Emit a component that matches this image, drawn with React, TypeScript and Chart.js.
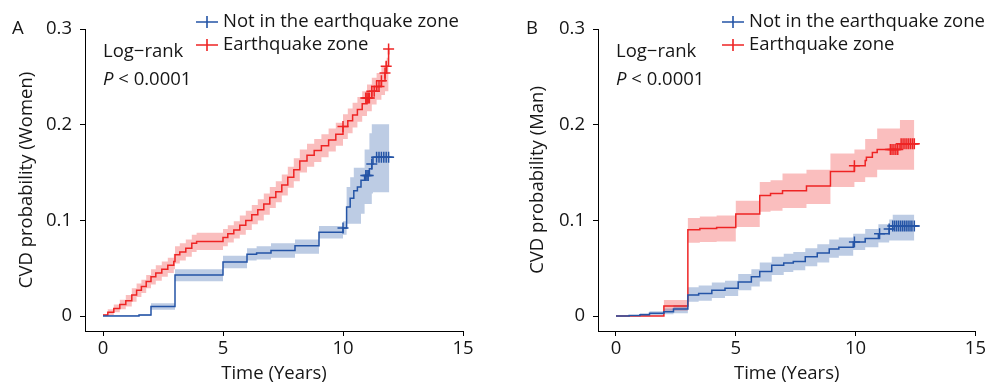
import React, { useEffect, useRef } from 'react';
import { Chart, registerables } from 'chart.js';

Chart.register(...registerables);

const FONT = '"Open Sans", "Noto Sans", sans-serif';
const FS = 18.5;
const TEXT = '#161616';
const RED = 'rgb(238,36,36)';
const RED_BAND = 'rgba(240,40,40,0.30)';
const BLUE = 'rgb(36,84,166)';
const BLUE_BAND = 'rgba(36,86,166,0.30)';

// ---- tick labels / text ----
const xTicks = [0, 5, 10, 15];
const yTicks = [0, 0.1, 0.2, 0.3];
const legendLabels = ['Not in the earthquake zone', 'Earthquake zone'];
const xTitle = 'Time (Years)';

// ---- Panel A: Women, earthquake zone (red) ----
const womenQuakeTime = [0, 0.2, 0.45, 0.7, 0.95, 1.2, 1.4, 1.6, 1.8, 2.0, 2.2, 2.45, 2.7, 2.95, 3.0, 3.2, 3.45, 3.7, 3.9, 5.0, 5.2, 5.45, 5.7, 5.95, 6.2, 6.45, 6.7, 6.95, 7.2, 7.45, 7.7, 7.95, 8.2, 8.5, 8.8, 9.1, 9.4, 9.7, 10.0, 10.2, 10.4, 10.6, 10.8, 11.0, 11.2, 11.4, 11.6, 11.75, 11.82, 11.9];
const womenQuakeCVD = [0.001, 0.004, 0.008, 0.012, 0.016, 0.022, 0.027, 0.031, 0.036, 0.041, 0.045, 0.049, 0.053, 0.057, 0.064, 0.067, 0.071, 0.076, 0.078, 0.082, 0.086, 0.090, 0.095, 0.100, 0.106, 0.111, 0.117, 0.124, 0.130, 0.137, 0.145, 0.153, 0.162, 0.168, 0.173, 0.178, 0.184, 0.190, 0.198, 0.204, 0.210, 0.216, 0.222, 0.228, 0.235, 0.240, 0.246, 0.254, 0.261, 0.279];
const womenQuakeLower = [0.000, 0.001, 0.004, 0.007, 0.010, 0.015, 0.020, 0.024, 0.029, 0.033, 0.037, 0.041, 0.045, 0.049, 0.055, 0.058, 0.062, 0.067, 0.069, 0.073, 0.077, 0.081, 0.085, 0.090, 0.096, 0.100, 0.106, 0.113, 0.119, 0.126, 0.134, 0.141, 0.150, 0.156, 0.161, 0.166, 0.172, 0.178, 0.185, 0.191, 0.197, 0.203, 0.209, 0.214, 0.221, 0.226, 0.231, 0.235, 0.235, 0.235];
const womenQuakeUpper = [0.002, 0.007, 0.012, 0.017, 0.022, 0.029, 0.034, 0.038, 0.043, 0.049, 0.053, 0.057, 0.061, 0.065, 0.073, 0.076, 0.080, 0.085, 0.087, 0.091, 0.095, 0.099, 0.105, 0.110, 0.116, 0.122, 0.128, 0.135, 0.141, 0.148, 0.156, 0.165, 0.174, 0.180, 0.185, 0.190, 0.196, 0.202, 0.211, 0.217, 0.223, 0.229, 0.235, 0.242, 0.249, 0.254, 0.261, 0.266, 0.270, 0.270];
const womenQuakeBandEnd = 11.9;
const womenQuakeCensorTime = [10.0, 10.95, 11.0, 11.05, 11.1, 11.2, 11.3, 11.4, 11.5, 11.6, 11.75, 11.8, 11.9];
const womenQuakeCensorCVD = [0.198, 0.228, 0.228, 0.228, 0.228, 0.235, 0.235, 0.240, 0.240, 0.246, 0.254, 0.261, 0.279];

// ---- Panel A: Women, not in earthquake zone (blue) ----
const womenOtherTime = [0, 1.5, 2.0, 3.0, 5.0, 6.0, 6.4, 7.0, 8.0, 9.0, 10.0, 10.15, 10.3, 10.45, 10.6, 10.75, 10.9, 11.1, 11.2, 11.25, 12.1];
const womenOtherCVD = [0, 0.001, 0.010, 0.043, 0.0565, 0.0646, 0.066, 0.0684, 0.0736, 0.0875, 0.092, 0.114, 0.123, 0.131, 0.135, 0.142, 0.147, 0.154, 0.159, 0.166, 0.166];
const womenOtherLower = [0, 0, 0.0065, 0.0365, 0.050, 0.058, 0.059, 0.061, 0.065, 0.081, 0.085, 0.0965, 0.0965, 0.0965, 0.0965, 0.107, 0.117, 0.117, 0.128, 0.1295, 0.1295];
const womenOtherUpper = [0.001, 0.002, 0.0135, 0.049, 0.063, 0.071, 0.073, 0.076, 0.080, 0.094, 0.099, 0.135, 0.145, 0.155, 0.155, 0.155, 0.174, 0.191, 0.2005, 0.2005, 0.2005];
const womenOtherBandEnd = 11.93;
const womenOtherCensorTime = [10.0, 10.95, 11.0, 11.05, 11.2, 11.4, 11.5, 11.6, 11.7, 11.8, 11.9];
const womenOtherCensorCVD = [0.092, 0.147, 0.147, 0.147, 0.159, 0.166, 0.166, 0.166, 0.166, 0.166, 0.166];

// ---- Panel B: Men, earthquake zone (red) ----
const menQuakeTime = [0, 2.0, 3.0, 3.5, 4.2, 5.0, 6.0, 6.45, 6.95, 7.95, 8.95, 9.95, 10.4, 10.45, 10.7, 10.9, 11.85, 12.65];
const menQuakeCVD = [0, 0.0105, 0.0903, 0.0915, 0.0925, 0.1066, 0.126, 0.128, 0.131, 0.136, 0.151, 0.157, 0.1625, 0.166, 0.171, 0.174, 0.180, 0.180];
const menQuakeLower = [0, 0.0055, 0.0765, 0.0775, 0.078, 0.093, 0.109, 0.110, 0.113, 0.117, 0.135, 0.140, 0.145, 0.145, 0.145, 0.153, 0.153, 0.153];
const menQuakeUpper = [0, 0.0167, 0.1025, 0.104, 0.105, 0.1205, 0.140, 0.142, 0.149, 0.153, 0.170, 0.174, 0.185, 0.185, 0.185, 0.196, 0.205, 0.205];
const menQuakeBandEnd = 12.45;
const menQuakeCensorTime = [9.95, 11.45, 11.52, 11.6, 11.68, 11.76, 11.9, 11.98, 12.06, 12.14, 12.22, 12.3, 12.38, 12.45];
const menQuakeCensorCVD = [0.157, 0.174, 0.174, 0.174, 0.174, 0.174, 0.180, 0.180, 0.180, 0.180, 0.180, 0.180, 0.180, 0.180];

// ---- Panel B: Men, not in earthquake zone (blue) ----
const menOtherTime = [0, 0.55, 1.0, 1.4, 2.0, 2.4, 3.0, 3.45, 4.0, 4.55, 5.1, 5.65, 6.0, 6.5, 7.0, 7.4, 7.9, 8.4, 8.9, 9.3, 9.9, 10.4, 10.95, 11.4, 11.55, 12.65];
const menOtherCVD = [0, 0.0005, 0.0015, 0.003, 0.0045, 0.0075, 0.022, 0.0236, 0.027, 0.029, 0.0357, 0.041, 0.0465, 0.053, 0.0555, 0.057, 0.062, 0.066, 0.070, 0.072, 0.0774, 0.081, 0.086, 0.091, 0.094, 0.094];
const menOtherLower = [0, 0, 0, 0.0005, 0.002, 0.003, 0.015, 0.016, 0.019, 0.021, 0.027, 0.031, 0.036, 0.043, 0.046, 0.048, 0.052, 0.056, 0.061, 0.063, 0.069, 0.072, 0.077, 0.079, 0.079, 0.079];
const menOtherUpper = [0, 0.001, 0.003, 0.005, 0.008, 0.0115, 0.030, 0.032, 0.035, 0.037, 0.044, 0.049, 0.056, 0.062, 0.065, 0.067, 0.071, 0.075, 0.080, 0.082, 0.086, 0.091, 0.096, 0.101, 0.106, 0.106];
const menOtherBandEnd = 12.45;
const menOtherCensorTime = [9.95, 11.0, 11.4, 11.55, 11.63, 11.71, 11.79, 11.87, 11.95, 12.03, 12.11, 12.19, 12.27, 12.35, 12.45];
const menOtherCensorCVD = [0.0774, 0.086, 0.091, 0.094, 0.094, 0.094, 0.094, 0.094, 0.094, 0.094, 0.094, 0.094, 0.094, 0.094, 0.094];

type Curve = {
  time: number[]; cvd: number[]; lower: number[]; upper: number[]; bandEnd: number;
  censorTime: number[]; censorCVD: number[]; line: string; band: string;
};

const women: Curve[] = [
  { time: womenOtherTime, cvd: womenOtherCVD, lower: womenOtherLower, upper: womenOtherUpper, bandEnd: womenOtherBandEnd, censorTime: womenOtherCensorTime, censorCVD: womenOtherCensorCVD, line: BLUE, band: BLUE_BAND },
  { time: womenQuakeTime, cvd: womenQuakeCVD, lower: womenQuakeLower, upper: womenQuakeUpper, bandEnd: womenQuakeBandEnd, censorTime: womenQuakeCensorTime, censorCVD: womenQuakeCensorCVD, line: RED, band: RED_BAND },
];
const men: Curve[] = [
  { time: menOtherTime, cvd: menOtherCVD, lower: menOtherLower, upper: menOtherUpper, bandEnd: menOtherBandEnd, censorTime: menOtherCensorTime, censorCVD: menOtherCensorCVD, line: BLUE, band: BLUE_BAND },
  { time: menQuakeTime, cvd: menQuakeCVD, lower: menQuakeLower, upper: menQuakeUpper, bandEnd: menQuakeBandEnd, censorTime: menQuakeCensorTime, censorCVD: menQuakeCensorCVD, line: RED, band: RED_BAND },
];

type Panel = {
  letter: string; letterX: number; yTitle: string; curves: Curve[];
  axisLeft: number; rightPad: number; yTitlePad: number; legendX: number;
};

const panels: Panel[] = [
  { letter: 'A', letterX: 12, yTitle: 'CVD probability (Women)', curves: women, axisLeft: 85, rightPad: 31, yTitlePad: 16, legendX: 207 },
  { letter: 'B', letterX: 32, yTitle: 'CVD probability (Man)', curves: men, axisLeft: 104, rightPad: 12, yTitlePad: 33, legendX: 239 },
];

// Expand a step function into explicit corner points (step happens at each time).
function stepPoints(c: Curve, which: number[]) {
  const pts: { x: number; y: number }[] = [];
  let last = which[0];
  for (let i = 0; i < c.time.length; i++) {
    const t = c.time[i];
    if (t > c.bandEnd) break;
    if (i > 0) pts.push({ x: t, y: last });
    pts.push({ x: t, y: which[i] });
    last = which[i];
  }
  if (pts[pts.length - 1].x < c.bandEnd) pts.push({ x: c.bandEnd, y: last });
  return pts;
}

function buildDatasets(curves: Curve[]) {
  const ds: any[] = [];
  curves.forEach((c) => {
    ds.push({ type: 'line', data: stepPoints(c, c.lower), tension: 0, borderWidth: 0, borderColor: 'rgba(0,0,0,0)', pointRadius: 0, fill: false, order: 10 });
    ds.push({ type: 'line', data: stepPoints(c, c.upper), tension: 0, borderWidth: 0, borderColor: 'rgba(0,0,0,0)', pointRadius: 0, fill: '-1', backgroundColor: c.band, order: 10 });
  });
  curves.forEach((c) => {
    ds.push({ type: 'line', data: c.time.map((t, i) => ({ x: t, y: c.cvd[i] })), stepped: true, borderWidth: 1.5, borderColor: c.line, pointRadius: 0, fill: false, order: 5 });
  });
  curves.forEach((c) => {
    ds.push({ type: 'line', data: c.censorTime.map((t, i) => ({ x: t, y: c.censorCVD[i] })), showLine: false, pointStyle: 'cross', pointRadius: 5.5, pointBorderWidth: 1.5, pointBorderColor: c.line, pointBackgroundColor: c.line, order: 1 });
  });
  return ds;
}

function annotations(p: Panel) {
  return {
    id: 'annot' + p.letter,
    afterDraw(chart: any) {
      const ctx = chart.ctx;
      ctx.save();
      ctx.fillStyle = TEXT;
      ctx.textBaseline = 'middle';
      ctx.textAlign = 'left';
      ctx.font = `${FS}px ${FONT}`;
      ctx.fillText(p.letter, p.letterX, 29);
      const x0 = chart.scales.x.getPixelForValue(0);
      ctx.fillText('Log\u2212rank', x0, 52);
      ctx.font = `italic ${FS}px ${FONT}`;
      ctx.fillText('P', x0, 80);
      const w = ctx.measureText('P').width;
      ctx.font = `${FS}px ${FONT}`;
      ctx.fillText(' < 0.0001', x0 + w, 80);
      // legend
      const rows = [22, 45];
      p.curves.forEach((c, i) => {
        const y = rows[i];
        ctx.strokeStyle = c.line;
        ctx.lineWidth = 1.6;
        ctx.beginPath();
        ctx.moveTo(p.legendX - 11, y); ctx.lineTo(p.legendX + 11, y);
        ctx.moveTo(p.legendX, y - 6); ctx.lineTo(p.legendX, y + 6);
        ctx.stroke();
        ctx.fillStyle = TEXT;
        ctx.fillText(legendLabels[i], p.legendX + 16, y);
      });
      ctx.restore();
    },
  };
}

function PanelChart({ p }: { p: Panel }) {
  const ref = useRef<HTMLCanvasElement>(null);
  useEffect(() => {
    if (!ref.current) return;
    const font = { family: FONT, size: FS };
    const chart = new Chart(ref.current, {
      type: 'line',
      data: { datasets: buildDatasets(p.curves) },
      options: {
        responsive: false,
        animation: false,
        devicePixelRatio: 1,
        layout: { padding: { top: 29, right: p.rightPad, left: 0, bottom: 0 } },
        plugins: { legend: { display: false }, tooltip: { enabled: false } },
        scales: {
          x: {
            type: 'linear', min: -0.75, max: 15,
            afterBuildTicks: (s: any) => { s.ticks = xTicks.map((v) => ({ value: v })); },
            afterFit: (s: any) => { s.height = 55; },
            grid: { drawOnChartArea: false, drawTicks: true, tickLength: 5, color: '#000', lineWidth: 1 },
            border: { display: true, color: '#000', width: 1 },
            ticks: { color: TEXT, font, padding: 2, maxRotation: 0, autoSkip: false, callback: (v: any) => String(v) },
            title: { display: true, text: xTitle, color: TEXT, font, padding: { top: 0, bottom: 1 } },
          },
          y: {
            type: 'linear', min: -0.0156, max: 0.3,
            afterBuildTicks: (s: any) => { s.ticks = yTicks.map((v) => ({ value: v })); },
            afterFit: (s: any) => { s.width = p.axisLeft; },
            grid: { drawOnChartArea: false, drawTicks: true, tickLength: 5, color: '#000', lineWidth: 1 },
            border: { display: true, color: '#000', width: 1 },
            ticks: { color: TEXT, font, padding: 8, autoSkip: false, callback: (v: any) => (v === 0 ? '0' : Number(v).toFixed(1)) },
            title: { display: true, text: p.yTitle, color: TEXT, font, padding: { top: p.yTitlePad, bottom: 0 } },
          },
        },
      },
      plugins: [annotations(p)],
    } as any);
    return () => chart.destroy();
  }, [p]);
  return <canvas ref={ref} width={494} height={386} style={{ display: 'block', width: 494, height: 386 }} />;
}

export default function App() {
  return (
    <div style={{ position: 'fixed', left: 0, top: 0, width: 988, height: 386, display: 'flex', background: '#fff' }}>
      {panels.map((p) => (
        <PanelChart key={p.letter} p={p} />
      ))}
    </div>
  );
}
